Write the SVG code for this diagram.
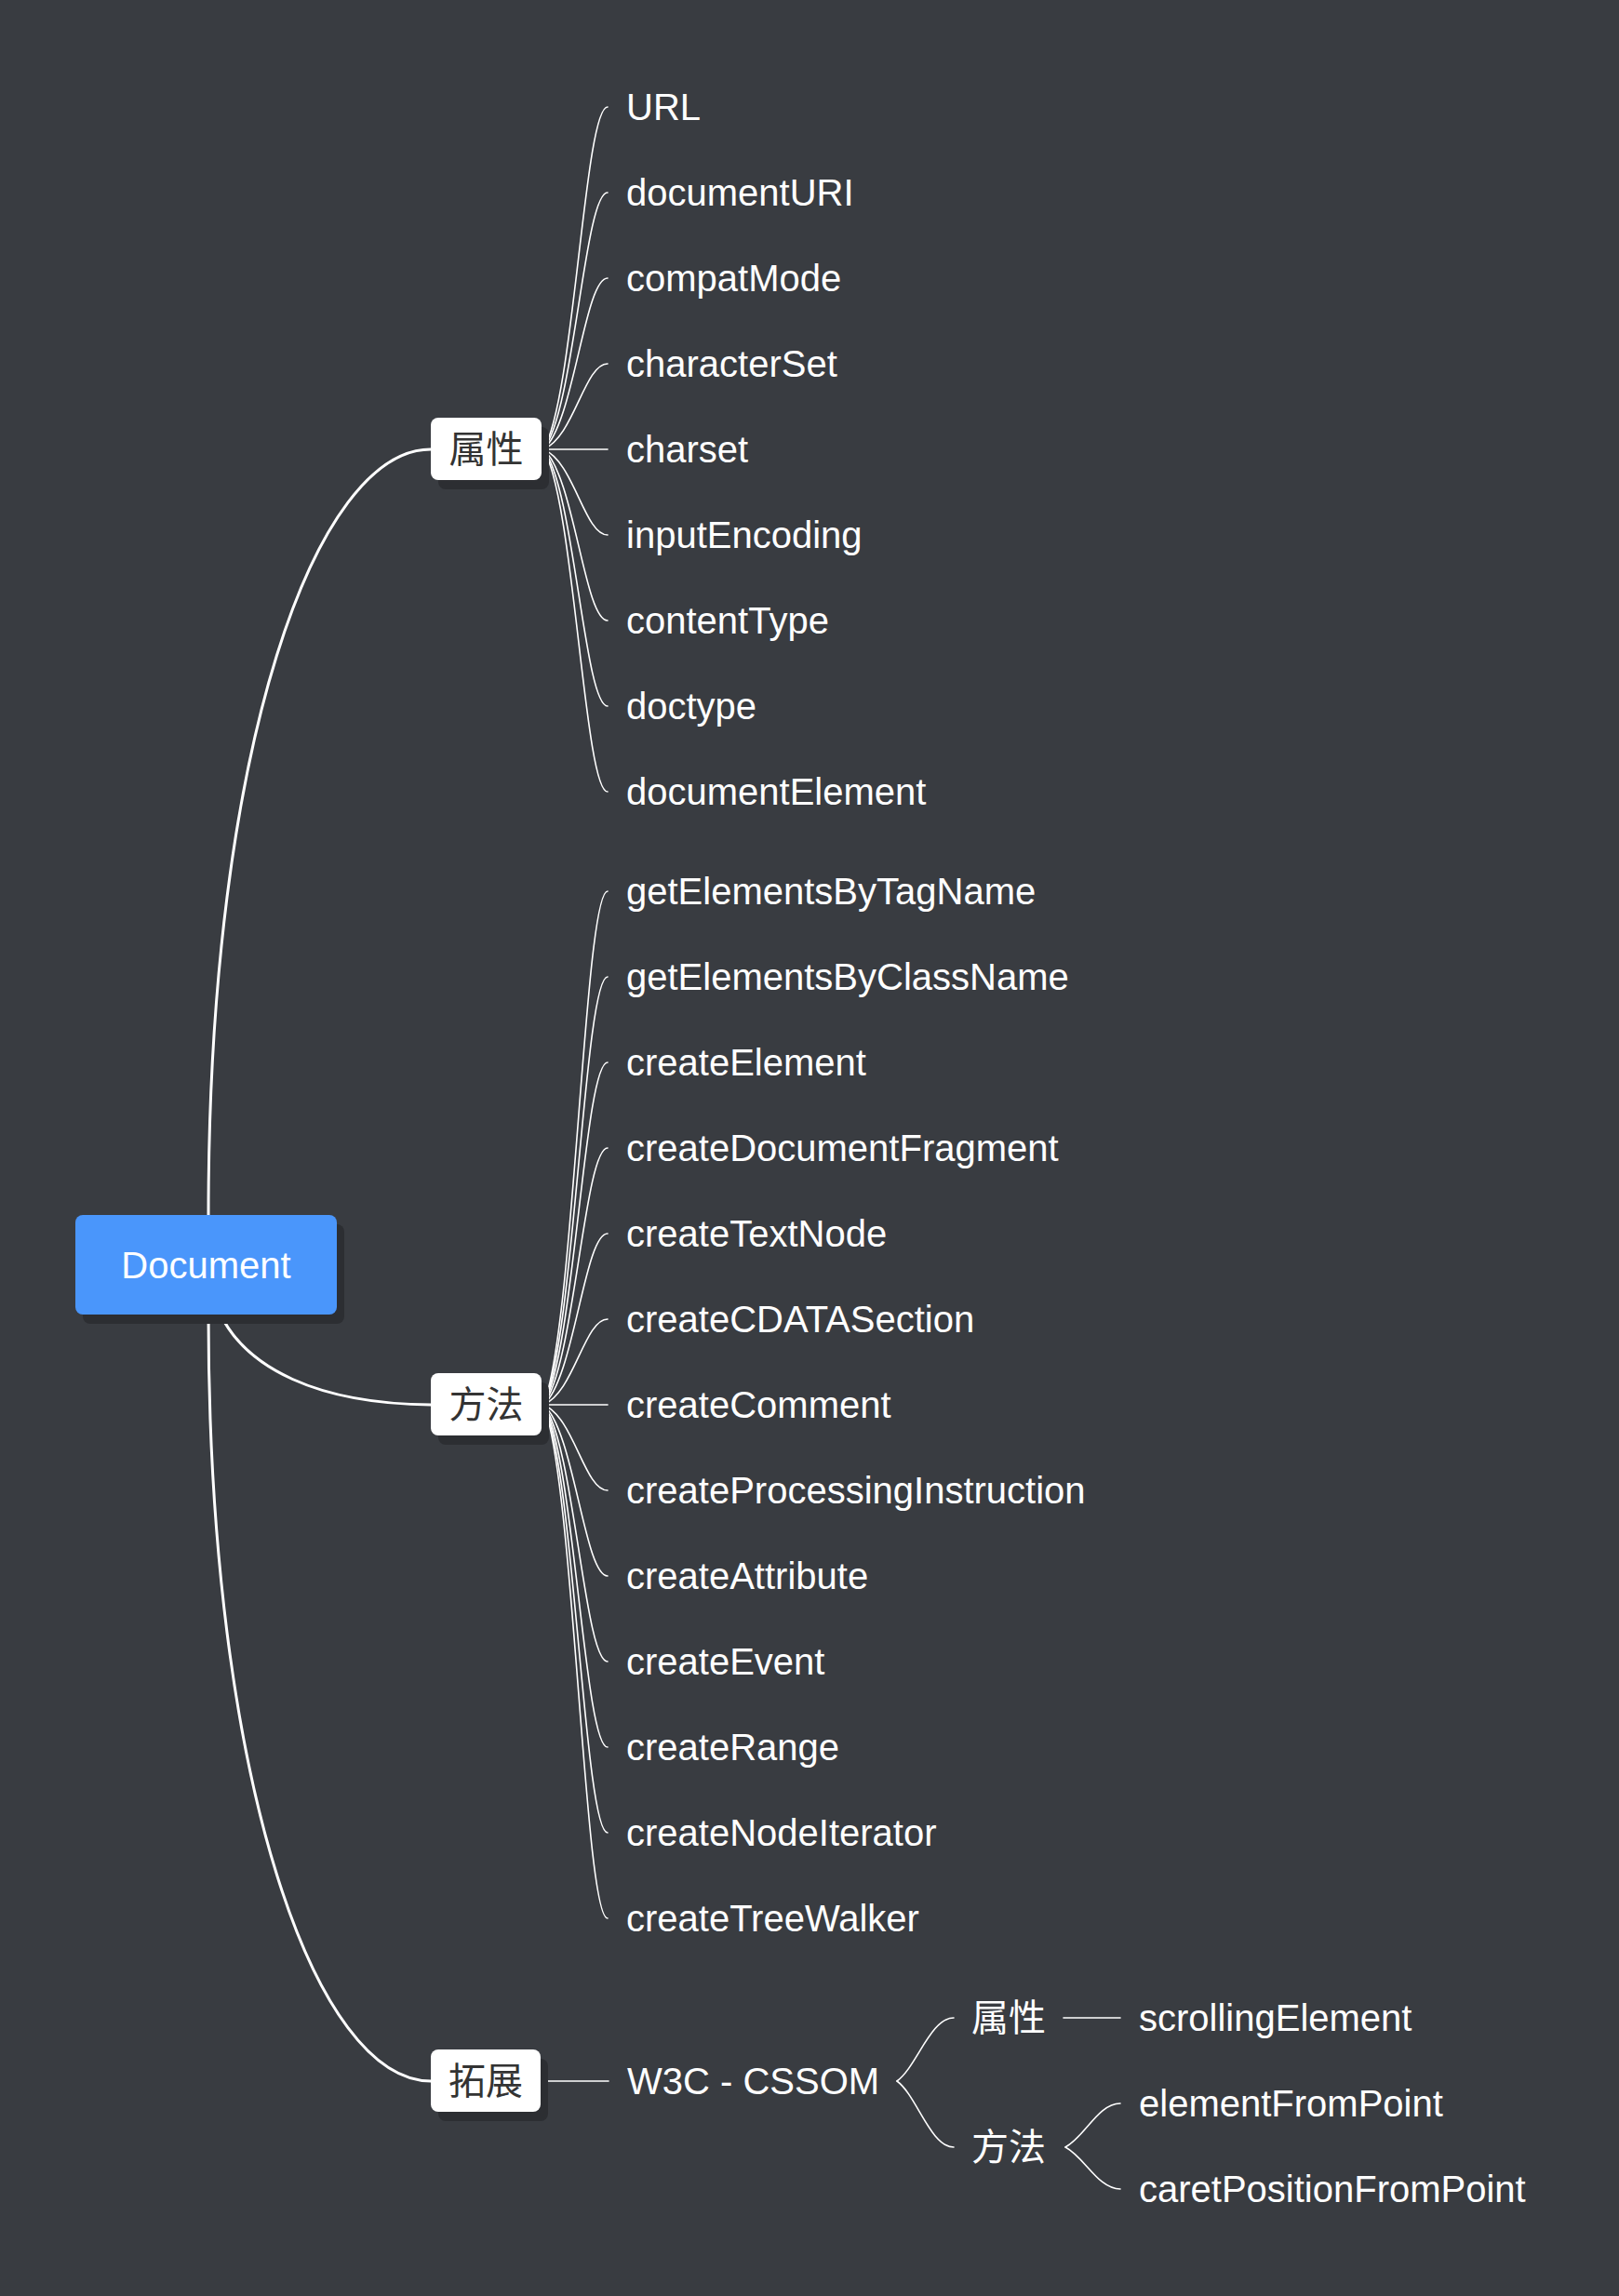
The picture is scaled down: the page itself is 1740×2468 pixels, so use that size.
<svg xmlns="http://www.w3.org/2000/svg" width="1740" height="2468" viewBox="0 0 1740 2468">
<style>
.bg{fill:#393c41}
.main{fill:none;stroke:#ffffff;stroke-width:3;stroke-linecap:round}
.thin{fill:none;stroke:#ffffff;stroke-width:1.6;stroke-linecap:round}
.shadow{fill:#2c2e32}
.box{fill:#ffffff}
.root{fill:#4a96fb}
.t{font-family:"Liberation Sans","Noto Sans CJK SC",sans-serif;font-size:40px;fill:#ffffff}
.cjk{font-family:"Noto Sans CJK SC","Liberation Sans",sans-serif;font-size:40px}
.dark{fill:#333333}
.mid{text-anchor:middle}
</style>
<rect class="bg" x="0" y="0" width="1740" height="2468"/>
<g id="connectors">
<path class="main" d="M224,1306 C224,800 340,483 463,483"/>
<path class="main" d="M224,1413 C224,1919 340,2237 463,2237"/>
<path class="main" d="M237,1413 C265,1470 340,1509 463,1510"/>
<!-- 属性 leaves -->
<path class="thin" d="M584,483 C617,430 628,115 653,115"/>
<path class="thin" d="M584,483 C617,443 628,207 653,207"/>
<path class="thin" d="M584,483 C617,456 628,299 653,299"/>
<path class="thin" d="M584,483 C617,470 628,391 653,391"/>
<path class="thin" d="M584,483 L653,483"/>
<path class="thin" d="M584,483 C617,496 628,575 653,575"/>
<path class="thin" d="M584,483 C617,510 628,667 653,667"/>
<path class="thin" d="M584,483 C617,523 628,759 653,759"/>
<path class="thin" d="M584,483 C617,536 628,851 653,851"/>
<!-- 方法 leaves -->
<path class="thin" d="M584,1510 C617,1430 628,958 653,958"/>
<path class="thin" d="M584,1510 C617,1444 628,1050 653,1050"/>
<path class="thin" d="M584,1510 C617,1457 628,1142 653,1142"/>
<path class="thin" d="M584,1510 C617,1470 628,1234 653,1234"/>
<path class="thin" d="M584,1510 C617,1483 628,1326 653,1326"/>
<path class="thin" d="M584,1510 C617,1497 628,1418 653,1418"/>
<path class="thin" d="M584,1510 L653,1510"/>
<path class="thin" d="M584,1510 C617,1523 628,1602 653,1602"/>
<path class="thin" d="M584,1510 C617,1537 628,1694 653,1694"/>
<path class="thin" d="M584,1510 C617,1550 628,1786 653,1786"/>
<path class="thin" d="M584,1510 C617,1563 628,1878 653,1878"/>
<path class="thin" d="M584,1510 C617,1576 628,1970 653,1970"/>
<path class="thin" d="M584,1510 C617,1590 628,2062 653,2062"/>
<!-- 拓展 -->
<path class="thin" d="M582,2237 L654,2237"/>
<path class="thin" d="M964,2237 C985,2222 1000,2169 1025,2169"/>
<path class="thin" d="M964,2237 C985,2252 1000,2308 1025,2308"/>
<path class="thin" d="M1143,2169 L1204,2169"/>
<path class="thin" d="M1145,2308 C1166,2297 1180,2261 1204,2261"/>
<path class="thin" d="M1145,2308 C1166,2319 1180,2353 1204,2353"/>
</g>
<g id="node-document">
<rect class="shadow" x="89" y="1316" width="281" height="107" rx="8"/>
<rect class="root" x="81" y="1306" width="281" height="107" rx="8"/>
<text class="t mid" x="221.5" y="1374">Document</text>
</g>
<g id="node-shuxing">
<rect class="shadow" x="471" y="459" width="119" height="67" rx="8"/>
<rect class="box" x="463" y="449" width="119" height="67" rx="8"/>
<text class="cjk dark mid" x="522.5" y="497">属性</text>
</g>
<g id="node-fangfa">
<rect class="shadow" x="471" y="1486" width="119" height="67" rx="8"/>
<rect class="box" x="463" y="1476" width="119" height="67" rx="8"/>
<text class="cjk dark mid" x="522.5" y="1524">方法</text>
</g>
<g id="node-tuozhan">
<rect class="shadow" x="471" y="2213" width="118" height="67" rx="8"/>
<rect class="box" x="463" y="2203" width="118" height="67" rx="8"/>
<text class="cjk dark mid" x="522" y="2251">拓展</text>
</g>
<g id="attr-leaves">
<text class="t" x="673" y="129">URL</text>
<text class="t" x="673" y="221">documentURI</text>
<text class="t" x="673" y="313">compatMode</text>
<text class="t" x="673" y="405">characterSet</text>
<text class="t" x="673" y="497">charset</text>
<text class="t" x="673" y="589">inputEncoding</text>
<text class="t" x="673" y="681">contentType</text>
<text class="t" x="673" y="773">doctype</text>
<text class="t" x="673" y="865">documentElement</text>
</g>
<g id="method-leaves">
<text class="t" x="673" y="972">getElementsByTagName</text>
<text class="t" x="673" y="1064">getElementsByClassName</text>
<text class="t" x="673" y="1156">createElement</text>
<text class="t" x="673" y="1248">createDocumentFragment</text>
<text class="t" x="673" y="1340">createTextNode</text>
<text class="t" x="673" y="1432">createCDATASection</text>
<text class="t" x="673" y="1524">createComment</text>
<text class="t" x="673" y="1616">createProcessingInstruction</text>
<text class="t" x="673" y="1708">createAttribute</text>
<text class="t" x="673" y="1800">createEvent</text>
<text class="t" x="673" y="1892">createRange</text>
<text class="t" x="673" y="1984">createNodeIterator</text>
<text class="t" x="673" y="2076">createTreeWalker</text>
</g>
<g id="node-w3c">
<text class="t" x="674" y="2251">W3C - CSSOM</text>
</g>
<g id="node-w3c-shuxing">
<text class="t cjk" x="1044" y="2183">属性</text>
</g>
<g id="node-w3c-fangfa">
<text class="t cjk" x="1044" y="2322">方法</text>
</g>
<g id="node-w3c-leaves">
<text class="t" x="1224" y="2183">scrollingElement</text>
<text class="t" x="1224" y="2275">elementFromPoint</text>
<text class="t" x="1224" y="2367">caretPositionFromPoint</text>
</g>
</svg>
